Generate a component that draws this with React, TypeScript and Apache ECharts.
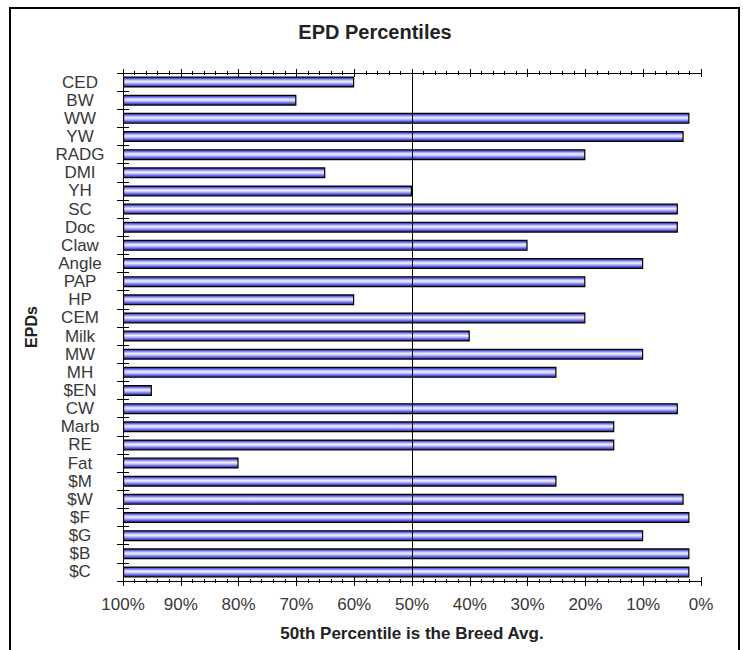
import React, { useEffect, useRef } from "react";
import * as echarts from "echarts";

const categories = [
  "CED", "BW", "WW", "YW", "RADG", "DMI", "YH", "SC", "Doc", "Claw", "Angle", "PAP", "HP", "CEM",
  "Milk", "MW", "MH", "$EN", "CW", "Marb", "RE", "Fat", "$M", "$W", "$F", "$G", "$B", "$C",
];
// percentile rank at which each bar ends (100% at left, 0% at right)
const percentiles = [
  60, 70, 2, 3, 20, 65, 50, 4, 4, 30, 10, 20, 60, 20,
  40, 10, 25, 95, 4, 15, 15, 80, 25, 3, 2, 10, 2, 2,
];
const breedAvg = 50;
const title = "EPD Percentiles";
const xName = "50th Percentile is the Breed Avg.";
const yName = "EPDs";

const FONT = "'Liberation Sans', Arial, sans-serif";

export default function App() {
  const ref = useRef<HTMLDivElement>(null);
  useEffect(() => {
    document.body.style.margin = "0";
    const chart = echarts.init(ref.current!, null, { renderer: "svg" });
    const black = { color: "#000", width: 1 };
    const baseX = {
      type: "value" as const,
      min: 0,
      max: 100,
      interval: 10,
      splitLine: { show: false },
    };
    const grad = new echarts.graphic.LinearGradient(0, 0, 0, 1, [
      { offset: 0, color: "#22228e" },
      { offset: 0.12, color: "#5050dc" },
      { offset: 0.3, color: "#b8b8f4" },
      { offset: 0.45, color: "#f2f2fd" },
      { offset: 0.62, color: "#b8b8f2" },
      { offset: 0.82, color: "#5a5ade" },
      { offset: 1, color: "#22228e" },
    ]);
    chart.setOption({
      animation: false,
      backgroundColor: "#fff",
      grid: { left: 123, right: 42, top: 73, bottom: 69 },
      graphic: [
        {
          type: "rect",
          shape: { x: 10, y: 8, width: 729, height: 680 },
          style: { fill: "none", stroke: "#000", lineWidth: 2 },
          silent: true,
        },
        {
          type: "text",
          x: 375,
          y: 32,
          style: {
            text: title,
            fontFamily: FONT,
            fontSize: 20,
            fontWeight: "bold",
            fill: "#222",
            textAlign: "center",
            textVerticalAlign: "middle",
          },
        },
      ],
      xAxis: [
        {
          ...baseX,
          position: "bottom",
          axisLine: { show: true, lineStyle: black },
          axisTick: { show: true, length: 5, lineStyle: black },
          minorTick: { show: true, splitNumber: 5, length: 2, lineStyle: black },
          axisLabel: {
            formatter: (v: number) => `${100 - v}%`,
            fontFamily: FONT,
            fontSize: 17,
            color: "#383838",
            margin: 15,
          },
          name: xName,
          nameLocation: "middle",
          nameGap: 44,
          nameTextStyle: { fontFamily: FONT, fontSize: 17, fontWeight: "bold", color: "#222" },
        },
        {
          ...baseX,
          position: "bottom",
          axisLine: { show: false },
          axisTick: { show: true, inside: true, length: 4, lineStyle: black },
          minorTick: { show: true, splitNumber: 5, length: 2, lineStyle: black },
          axisLabel: { show: false },
        },
        {
          ...baseX,
          position: "top",
          axisLine: { show: true, lineStyle: black },
          axisTick: { show: true, length: 4, lineStyle: black },
          minorTick: { show: true, splitNumber: 5, length: 2, lineStyle: black },
          axisLabel: { show: false },
        },
        {
          ...baseX,
          position: "top",
          axisLine: { show: false },
          axisTick: { show: true, inside: true, length: 4, lineStyle: black },
          minorTick: { show: true, splitNumber: 5, length: 2, lineStyle: black },
          axisLabel: { show: false },
        },
      ],
      yAxis: [
        {
          type: "category",
          data: categories,
          inverse: true,
          position: "left",
          axisLine: { show: true, lineStyle: black },
          axisTick: { show: true, length: 2, lineStyle: black },
          axisLabel: {
            fontFamily: FONT,
            fontSize: 17,
            color: "#383838",
            align: "center",
            margin: 43,
            interval: 0,
          },
          name: yName,
          nameLocation: "middle",
          nameGap: 84,
          nameRotate: 90,
          nameTextStyle: { fontFamily: FONT, fontSize: 16, fontWeight: "bold", color: "#222" },
        },
        {
          type: "category",
          data: categories,
          inverse: true,
          position: "left",
          axisLine: { show: false },
          axisTick: { show: true, inside: true, length: 6, lineStyle: black },
          axisLabel: { show: false },
        },
        {
          type: "category",
          data: categories,
          inverse: true,
          position: "right",
          axisLine: { show: true, lineStyle: black },
          axisTick: { show: true, inside: true, length: 6, lineStyle: black },
          axisLabel: { show: false },
        },
      ],
      series: [
        {
          type: "bar",
          xAxisIndex: 0,
          yAxisIndex: 0,
          data: percentiles.map((p) => 100 - p),
          barWidth: 11,
          itemStyle: { color: grad, borderColor: "#000", borderWidth: 1.2 },
          markLine: {
            silent: true,
            symbol: "none",
            label: { show: false },
            lineStyle: { color: "#000", width: 1, type: "solid" },
            data: [{ xAxis: 100 - breedAvg }],
          },
        },
      ],
    });
    return () => chart.dispose();
  }, []);
  return <div ref={ref} style={{ width: 743, height: 650 }} />;
}
